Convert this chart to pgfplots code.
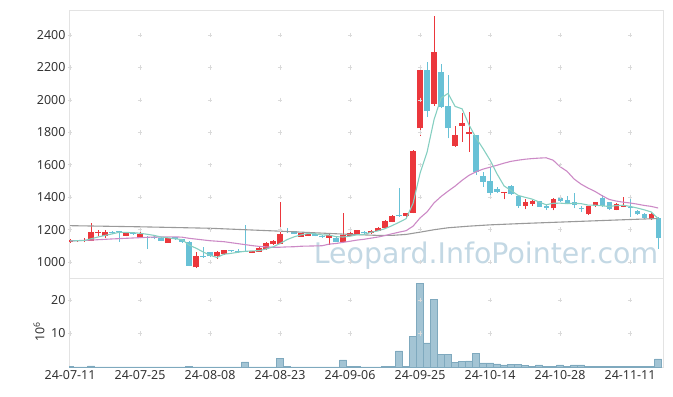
\documentclass[border=0pt]{standalone}
\usepackage{pgfplots}
\pgfplotsset{compat=1.18}
\usepackage{pgfplotstable}
\usepackage{fontspec}
\setmainfont{Noto Sans}
\newfontfamily\wmfont{DejaVu Sans}
\definecolor{cup}{HTML}{EB373C}
\definecolor{cdn}{HTML}{68C1D6}
\definecolor{mafive}{HTML}{86CFC1}
\definecolor{matwenty}{HTML}{CC8AC6}
\definecolor{masixty}{HTML}{9A9A9A}
\definecolor{volf}{HTML}{A3C4D4}
\definecolor{vold}{HTML}{7FA9BE}
\definecolor{framec}{HTML}{E3E3E3}
\definecolor{tickc}{HTML}{333333}
\definecolor{wm}{HTML}{C3D8E4}
\definecolor{gridc}{HTML}{DADADA}

\pgfplotstableread{
x lo hi L H
0 1122 1136 1118 1140
1 1128 1133 1124 1138
2 1129 1134 1122 1145
3 1131 1184 1128 1240
4 1177 1182 1158 1196
5 1162 1187 1150 1197
8 1162 1181 1158 1184
10 1150 1170 1146 1192
14 1120 1146 1118 1148
18 966 1037 962 1063
21 1037 1062 1018 1066
22 1047 1073 1044 1075
26 1057 1068 1054 1070
27 1064 1086 1062 1090
28 1080 1117 1076 1121
29 1109 1130 1105 1133
30 1111 1171 1108 1372
33 1157 1177 1154 1179
34 1163 1174 1160 1177
37 1150 1167 1105 1170
39 1125 1168 1122 1300
40 1162 1181 1158 1185
41 1173 1196 1170 1199
43 1177 1193 1174 1196
44 1193 1210 1190 1213
45 1212 1255 1209 1258
46 1249 1284 1245 1287
48 1284 1300 1280 1304
49 1304 1685 1300 1690
50 1825 2185 1777 2190
52 1975 2296 1963 2518
55 1718 1784 1712 1839
56 1841 1860 1742 1918
57 1789 1799 1680 1928
62 1425 1430 1387 1432
65 1347 1370 1325 1390
66 1358 1376 1345 1380
69 1330 1389 1318 1392
74 1294 1345 1290 1347
75 1345 1368 1340 1372
78 1321 1358 1318 1362
79 1341 1352 1338 1400
83 1267 1296 1262 1300
}\upc

\pgfplotstableread{
x lo hi L H
6 1180 1185 1172 1190
7 1182 1190 1125 1192
9 1173 1177 1168 1183
11 1149 1153 1079 1158
12 1146 1156 1140 1160
13 1132 1149 1129 1151
15 1140 1151 1136 1153
16 1124 1141 1120 1143
17 977 1125 975 1127
19 1031 1035 1027 1090
20 1035 1062 1030 1064
23 1066 1072 1062 1076
24 1065 1068 1058 1080
25 1066 1069 1064 1226
31 1186 1189 1176 1208
32 1172 1189 1170 1192
35 1160 1175 1158 1177
36 1151 1162 1148 1164
38 1126 1150 1124 1153
42 1178 1185 1175 1188
47 1284 1288 1278 1455
51 1934 2185 1897 2236
53 1959 2175 1950 2220
54 1825 1963 1763 2154
58 1557 1782 1537 1784
59 1495 1531 1465 1557
60 1428 1500 1407 1598
61 1434 1450 1425 1462
63 1418 1469 1414 1472
64 1345 1407 1335 1410
67 1341 1376 1338 1378
68 1335 1347 1320 1350
70 1376 1393 1370 1396
71 1360 1383 1355 1410
72 1350 1372 1330 1424
73 1326 1331 1310 1345
76 1345 1393 1342 1413
77 1325 1368 1320 1370
80 1335 1341 1280 1407
81 1294 1317 1290 1320
82 1270 1296 1265 1300
84 1146 1273 1080 1275
}\dnc

\pgfplotstableread{
x v
0 0.15
1 0.05
2 0.05
3 0.35
4 0.05
5 0.05
6 0.04
7 0.04
8 0.04
9 0.04
10 0.04
11 0.05
12 0.04
13 0.04
14 0.04
15 0.04
16 0.04
17 0.3
18 0.05
19 0.04
20 0.04
21 0.04
22 0.04
23 0.04
24 0.04
25 1.5
26 0.05
27 0.05
28 0.05
29 0.05
30 2.6
31 0.3
32 0.04
33 0.04
34 0.04
35 0.04
36 0.04
37 0.04
38 0.04
39 2.1
40 0.3
41 0.3
42 0.05
43 0.05
44 0.05
45 0.2
46 0.3
47 4.8
48 0.3
49 9.1
50 25.0
51 7.2
52 20.3
53 3.8
54 3.8
55 1.4
56 1.7
57 1.8
58 4.1
59 1.2
60 1.2
61 0.9
62 0.6
63 0.8
64 0.8
65 0.5
66 0.3
67 0.6
68 0.3
69 0.3
70 0.6
71 0.3
72 0.6
73 0.6
74 0.25
75 0.2
76 0.2
77 0.2
78 0.2
79 0.2
80 0.2
81 0.2
82 0.2
83 0.2
84 2.4
}\vol

\pgfplotsset{
  candle/.style n args={2}{draw=none, mark=none, forget plot,
    error bars/.cd, y dir=plus, y explicit, error mark=none,
    error bar style={draw=#1, solid, line width=#2}},
  panel/.style={scale only axis, anchor=south west, width=594bp,
    xmin=-0.15, xmax=84.7, axis line style={draw=framec, line width=0.8bp},
    major tick length=0pt,
    tick label style={font=\fontsize{12.5}{14}\selectfont, text=tickc},
    /pgf/number format/1000 sep={},
    /pgf/number format/assume math mode=true}
}

\begin{document}
\begin{tikzpicture}[x=1bp,y=1bp]
\useasboundingbox (0,0) rectangle (673,396);
\node[font=\wmfont\fontsize{28.5}{29}\selectfont, text=wm, anchor=base, inner sep=0pt] at (486,133) {Leopard.InfoPointer.com};

\begin{axis}[panel, at={(69bp,118bp)}, height=268bp,
  ymin=901, ymax=2555, xtick=\empty, ytick={1000,1200,...,2400}]
\addplot[only marks, mark=+, mark size=2.2bp, gridc, line width=0.5bp, forget plot] coordinates {
(0,1000)(10,1000)(20,1000)(30,1000)(40,1000)(50,1000)(60,1000)(70,1000)(80,1000)
(0,1200)(10,1200)(20,1200)(30,1200)(40,1200)(50,1200)(60,1200)(70,1200)(80,1200)
(0,1400)(10,1400)(20,1400)(30,1400)(40,1400)(50,1400)(60,1400)(70,1400)(80,1400)
(0,1600)(10,1600)(20,1600)(30,1600)(40,1600)(50,1600)(60,1600)(70,1600)(80,1600)
(0,1800)(10,1800)(20,1800)(30,1800)(40,1800)(50,1800)(60,1800)(70,1800)(80,1800)
(0,2000)(10,2000)(20,2000)(30,2000)(40,2000)(50,2000)(60,2000)(70,2000)(80,2000)
(0,2200)(10,2200)(20,2200)(30,2200)(40,2200)(50,2200)(60,2200)(70,2200)(80,2200)
(0,2400)(10,2400)(20,2400)(30,2400)(40,2400)(50,2400)(60,2400)(70,2400)(80,2400)
};
% wicks
\addplot[candle={cup}{1.1bp}] table[x=x, y=L, y error expr=\thisrow{H}-\thisrow{L}] {\upc};
\addplot[candle={cdn}{1.1bp}] table[x=x, y=L, y error expr=\thisrow{H}-\thisrow{L}] {\dnc};
% bodies
\addplot[candle={cup}{5.2bp}] table[x=x, y=lo, y error expr=\thisrow{hi}-\thisrow{lo}] {\upc};
\addplot[candle={cdn}{5.2bp}] table[x=x, y=lo, y error expr=\thisrow{hi}-\thisrow{lo}] {\dnc};
% moving averages
\addplot[masixty, line width=1.1bp, mark=none] coordinates {
(0,1224)(10,1217)(20,1208)(30,1190)(40,1170)(44,1164)(46,1164)(48,1170)(50,1184)(52,1199)(54,1211)(57,1221)(60,1229)(65,1238)(70,1246)(75,1254)(80,1262)(84,1268)};
\addplot[matwenty, line width=1.1bp, mark=none] coordinates {
(0,1130)(3,1135)(6,1142)(9,1148)(12,1154)(15,1155)(16,1153)(17,1146)(18,1141)(19,1136)(20,1131)(21,1128)(22,1125)(23,1119)(24,1113)(25,1107)(26,1101)(27,1096)(28,1093)(29,1091)(30,1091)(31,1093)(32,1094)(33,1097)(34,1098)(35,1099)(36,1100)(37,1110)(38,1114)(39,1121)(40,1128)(41,1135)(42,1140)(43,1147)(44,1154)(45,1163)(46,1174)(47,1184)(48,1193)(49,1221)(50,1272)(51,1309)(52,1365)(53,1404)(54,1437)(55,1468)(56,1504)(57,1535)(58,1557)(59,1573)(60,1585)(61,1597)(62,1610)(63,1621)(64,1628)(65,1634)(66,1638)(67,1641)(68,1643)(69,1628)(70,1588)(71,1559)(72,1512)(73,1480)(74,1456)(75,1435)(76,1409)(77,1386)(78,1376)(79,1369)(80,1364)(81,1357)(82,1349)(83,1343)(84,1333)};
\addplot[mafive, line width=1.1bp, mark=none] coordinates {
(0,1130)(1,1131)(2,1132)(3,1143)(4,1154)(5,1164)(6,1173)(7,1183)(8,1182)(9,1181)(10,1177)(11,1171)(12,1164)(13,1154)(14,1149)(15,1143)(16,1138)(17,1104)(18,1085)(19,1062)(20,1041)(21,1028)(22,1048)(23,1053)(24,1060)(25,1066)(26,1068)(27,1070)(28,1080)(29,1093)(30,1114)(31,1138)(32,1155)(33,1167)(34,1176)(35,1174)(36,1167)(37,1166)(38,1156)(39,1154)(40,1159)(41,1168)(42,1170)(43,1183)(44,1192)(45,1206)(46,1224)(47,1245)(48,1267)(49,1362)(50,1548)(51,1678)(52,1880)(53,2012)(54,2040)(55,1960)(56,1945)(57,1845)(58,1765)(59,1699)(60,1628)(61,1543)(62,1469)(63,1441)(64,1411)(65,1399)(66,1388)(67,1370)(68,1353)(69,1362)(70,1363)(71,1360)(72,1362)(73,1360)(74,1351)(75,1350)(76,1347)(77,1342)(78,1348)(79,1350)(80,1343)(81,1333)(82,1322)(83,1309)(84,1268)};
\end{axis}

\begin{axis}[panel, at={(69bp,29bp)}, height=89bp,
  ymin=0, ymax=26.6, ytick={10,20},
  xtick={0,10,...,80},
  xticklabels={24-07-11,24-07-25,24-08-08,24-08-23,24-09-06,24-09-25,24-10-14,24-10-28,24-11-11},
  ylabel={10\textsuperscript{6}}, ylabel style={font=\fontsize{12.5}{14}\selectfont, text=tickc, xshift=-9bp}]
\addplot[only marks, mark=+, mark size=2.2bp, gridc, line width=0.5bp, forget plot] coordinates {
(0,10)(10,10)(20,10)(30,10)(40,10)(50,10)(60,10)(70,10)(80,10)
(0,20)(10,20)(20,20)(30,20)(40,20)(50,20)(60,20)(70,20)(80,20)};
\addplot[ybar, bar width=7bp, bar shift=0pt, fill=volf, draw=vold, line width=0.4bp] table[x=x, y=v] {\vol};
\end{axis}
\end{tikzpicture}
\end{document}
